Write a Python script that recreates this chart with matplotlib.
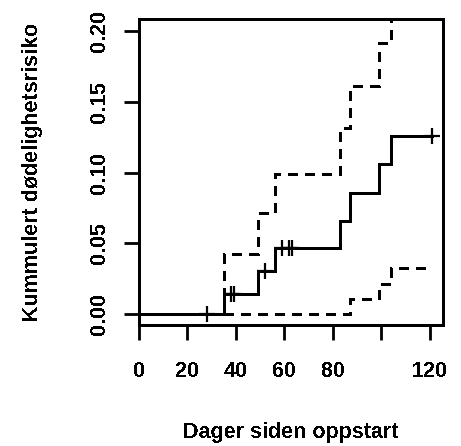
import numpy as np
import matplotlib
matplotlib.use("Agg")
import matplotlib.pyplot as plt

# Kumulert dødelighet (1 - KM) med 95 % konfidensintervall
times = [0, 35, 49, 56, 83, 87, 99, 104, 121]
risk = [0, 0.0137, 0.0302, 0.0465, 0.0659, 0.0855, 0.1058, 0.126, 0.126]
upper = [0, 0.042, 0.0715, 0.099, 0.1313, 0.161, 0.1915, 0.235, 0.235]
lower = [0, 0, 0, 0, 0, 0.0102, 0.0208, 0.0321, 0.0321]
censored = [28, 38, 39, 52, 59, 62, 63, 121]

x_ticks = [0, 20, 40, 60, 80, 100, 120]
x_labels = ["0", "20", "40", "60", "80", "", "120"]
y_ticks = [0.00, 0.05, 0.10, 0.15, 0.20]
y_labels = ["0.00", "0.05", "0.10", "0.15", "0.20"]


def main() -> None:
    plt.rcParams["font.family"] = ["Liberation Sans", "DejaVu Sans"]
    plt.rcParams["font.weight"] = "bold"
    plt.rcParams["text.antialiased"] = False

    fig = plt.figure(figsize=(4.61, 4.46), dpi=100)
    ax = fig.add_axes([0.3015, 0.2713, 0.6595, 0.6854])

    dash = dict(color="black", lw=2.0, where="post", antialiased=False,
                dashes=(3.4, 2.6))
    ax.step(times, upper, **dash)
    ax.step(times, lower, **dash)
    ax.step(times, risk, color="black", lw=2.0, where="post",
            antialiased=False)

    idx = np.searchsorted(times, censored, side="right") - 1
    cens_y = np.array(risk)[idx]
    ax.plot(censored, cens_y, ls="none", marker="+", color="black",
            markersize=12, markeredgewidth=1.6, antialiased=False)

    ax.set_xlim(0, 125.4)
    ax.set_ylim(-0.008, 0.2085)

    for side in ax.spines.values():
        side.set_linewidth(2.0)
        side.set_antialiased(False)

    ax.set_xticks(x_ticks)
    ax.set_xticklabels(x_labels)
    ax.set_yticks(y_ticks)
    ax.set_yticklabels(y_labels, rotation=90, va="center")
    ax.tick_params(axis="x", length=11, width=2.0, pad=15, labelsize=15.5)
    ax.tick_params(axis="y", length=11, width=2.0, pad=10, labelsize=15.5)

    ax.set_xlabel("Dager siden oppstart", fontsize=15.5, fontweight="bold",
                  labelpad=29)
    ax.set_ylabel("Kummulert dødelighetsrisiko", fontsize=15.5,
                  fontweight="bold", labelpad=33)

    fig.savefig("out.png", dpi=100)


if __name__ == "__main__":
    main()
